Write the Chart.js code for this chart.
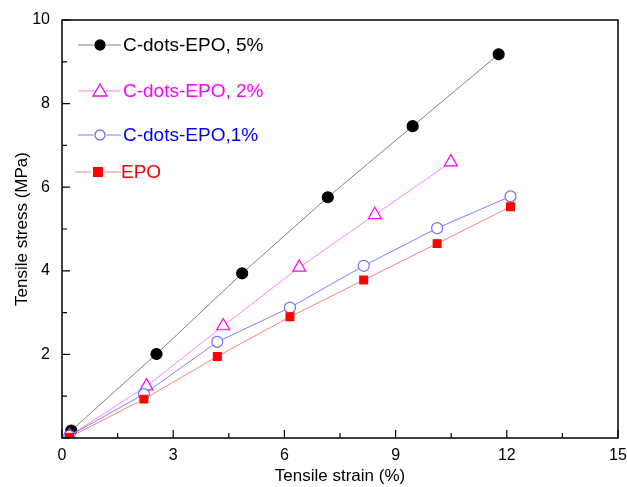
<!DOCTYPE html>
<html>
<head>
<meta charset="utf-8">
<script src="https://cdn.jsdelivr.net/npm/chart.js@4"></script>
<style>
html,body{margin:0;padding:0;background:#fff;}
#wrap{position:relative;width:627px;height:487px;}
</style>
</head>
<body>
<div id="wrap"><canvas id="c" width="627" height="487"></canvas></div>
<script>
const seriesNames = ["C-dots-EPO, 5%", "C-dots-EPO, 2%", "C-dots-EPO,1%", "EPO"];
const x5 = [0.25, 2.55, 4.86, 7.17, 9.46, 11.78];
const y5 = [0.18, 2.01, 3.94, 5.76, 7.46, 9.18];
const x2 = [0.2, 2.28, 4.35, 6.4, 8.44, 10.49];
const y2 = [0.05, 1.24, 2.68, 4.08, 5.34, 6.6];
const x1 = [0.2, 2.21, 4.19, 6.15, 8.14, 10.12, 12.1];
const y1 = [0.05, 1.05, 2.3, 3.12, 4.12, 5.02, 5.78];
const x0 = [0.2, 2.21, 4.19, 6.15, 8.14, 10.12, 12.1];
const y0 = [0.02, 0.93, 1.95, 2.9, 3.78, 4.65, 5.53];
const xTicks = [0, 3, 6, 9, 12, 15];
const yTicks = [2, 4, 6, 8, 10];

const pts = (xs, ys) => xs.map((x, i) => ({x: x, y: ys[i]}));

const styles = [
  {line: '#808080', pt: '#000000', fill: '#000000', style: 'circle', r: 5.5, text: '#000000'},
  {line: '#ff80ff', pt: '#ff00ff', fill: '#ffffff', style: 'triangle', r: 7.5, text: '#ff00ff'},
  {line: '#8080ff', pt: '#6f6fff', fill: '#ffffff', style: 'circle', r: 5.5, text: '#0000ff'},
  {line: '#ff8080', pt: '#ff0000', fill: '#ff0000', style: 'rect', r: 5.5, text: '#ff0000'}
];
const dataSets = [pts(x5, y5), pts(x2, y2), pts(x1, y1), pts(x0, y0)];
const FONT = '"Liberation Sans", Arial, sans-serif';

const frameTicks = {
  id: 'frameTicks',
  afterDraw(chart) {
    const ctx = chart.ctx, a = chart.chartArea;
    const xs = chart.scales.x, ys = chart.scales.y;
    ctx.save();
    ctx.strokeStyle = '#000';
    ctx.lineWidth = 1.5;
    ctx.strokeRect(a.left, a.top, a.right - a.left, a.bottom - a.top);
    ctx.lineWidth = 1.2;
    ctx.beginPath();
    for (let v = 0; v <= 15.001; v += 1.5) {
      const p = xs.getPixelForValue(v);
      const major = Math.abs(v / 3 - Math.round(v / 3)) < 1e-6;
      const len = major ? 8 : 5;
      ctx.moveTo(p, a.bottom); ctx.lineTo(p, a.bottom - len);
    }
    for (let v = 0; v <= 10.001; v += 1) {
      const p = ys.getPixelForValue(v);
      const len = (v % 2 === 0) ? 8 : 5;
      ctx.moveTo(a.left, p); ctx.lineTo(a.left + len, p);
    }
    ctx.stroke();

    // legend
    const rows = [45, 91, 135, 172];
    ctx.font = '19px ' + FONT;
    ctx.textBaseline = 'middle';
    rows.forEach((yy, i) => {
      const s = styles[i];
      const lx0 = i === 3 ? 75 : 78;
      ctx.strokeStyle = s.line; ctx.lineWidth = 1;
      ctx.beginPath();
      ctx.moveTo(lx0, yy); ctx.lineTo(121, yy);
      ctx.stroke();
      const cx = i === 3 ? 98 : 100;
      ctx.lineWidth = 1.3;
      ctx.strokeStyle = s.pt; ctx.fillStyle = s.fill;
      if (s.style === 'circle') {
        ctx.fillStyle = '#fff';
        ctx.beginPath(); ctx.arc(cx, yy, 6.5, 0, Math.PI * 2); ctx.fill();
        ctx.fillStyle = s.fill;
        ctx.beginPath(); ctx.arc(cx, yy, 5, 0, Math.PI * 2); ctx.fill(); ctx.stroke();
      } else if (s.style === 'triangle') {
        ctx.fillStyle = '#fff';
        ctx.beginPath();
        ctx.moveTo(cx, yy - 7); ctx.lineTo(cx + 7, yy + 5); ctx.lineTo(cx - 7, yy + 5); ctx.closePath();
        ctx.fill(); ctx.stroke();
      } else {
        ctx.fillStyle = '#fff';
        ctx.fillRect(cx - 6.5, yy - 6.5, 13, 13);
        ctx.fillStyle = s.fill;
        ctx.fillRect(cx - 5, yy - 5, 10, 10);
      }
      ctx.fillStyle = s.text;
      ctx.textAlign = 'left';
      ctx.fillText(seriesNames[i], i === 3 ? 121 : 123, yy + 1);
    });
    ctx.restore();
  }
};

new Chart(document.getElementById('c'), {
  type: 'scatter',
  data: {
    datasets: dataSets.map((d, i) => ({
      label: seriesNames[i],
      data: d,
      showLine: true,
      borderColor: styles[i].line,
      borderWidth: 1,
      pointStyle: styles[i].style,
      pointRadius: styles[i].r,
      pointBorderColor: styles[i].pt,
      pointBackgroundColor: styles[i].fill,
      pointBorderWidth: 1.2,
      order: 3 - i
    }))
  },
  options: {
    responsive: false,
    animation: false,
    devicePixelRatio: 1,
    layout: {padding: {top: 20, right: 9, left: 0, bottom: 0}},
    plugins: {legend: {display: false}, tooltip: {enabled: false}},
    scales: {
      x: {
        type: 'linear', min: 0, max: 15,
        afterBuildTicks: s => { s.ticks = xTicks.map(v => ({value: v})); },
        afterFit: s => { s.height = 49; s.paddingLeft = 0; s.paddingRight = 0; },
        grid: {display: false, drawTicks: false},
        border: {display: false},
        ticks: {color: '#000', font: {family: FONT, size: 16}, padding: 8, maxRotation: 0},
        title: {display: true, text: 'Tensile strain (%)', color: '#000', font: {family: FONT, size: 17}, padding: {top: 0, bottom: 0}}
      },
      y: {
        type: 'linear', min: 0, max: 10,
        afterBuildTicks: s => { s.ticks = yTicks.map(v => ({value: v})); },
        afterFit: s => { s.width = 62; s.paddingTop = 0; s.paddingBottom = 0; },
        grid: {display: false, drawTicks: false},
        border: {display: false},
        ticks: {color: '#000', font: {family: FONT, size: 16}, padding: 12},
        title: {display: true, text: 'Tensile stress (MPa)', color: '#000', font: {family: FONT, size: 17}, padding: {top: 12, bottom: 0}}
      }
    }
  },
  plugins: [frameTicks]
});
</script>
</body>
</html>
